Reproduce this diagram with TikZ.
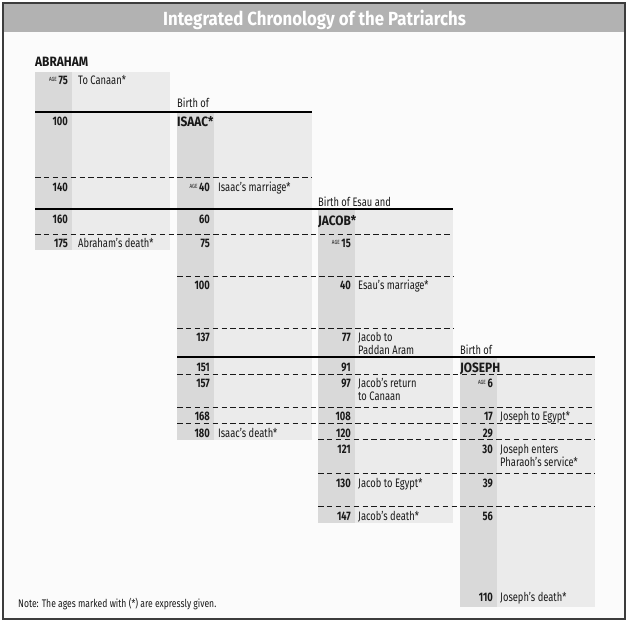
\documentclass[tikz,border=0pt]{standalone}
\usepackage{fontspec}
\setmainfont[FakeStretch=0.76]{Fira Sans}
\newfontfamily\titlefont[FakeStretch=0.885]{Fira Sans}
\newfontfamily\headfont[FakeStretch=0.88]{Fira Sans}
\newfontfamily\notefont[FakeStretch=0.78]{Fira Sans}
\definecolor{bandd}{gray}{0.85}
\definecolor{bandl}{gray}{0.92}
\definecolor{titlebg}{gray}{0.70}
\definecolor{panelbg}{gray}{0.985}
\definecolor{ink}{gray}{0.1}
\newcommand\agelbl{\raisebox{3pt}{\fontsize{6}{6}\selectfont\mdseries AGE}\hspace{1.6pt}}
\newcommand\twoline[2]{\begin{tabular}[t]{@{}l@{}}#1\\#2\end{tabular}}
\newcommand\colshade[3]{%
  \fill[bandl] (#1,#2) rectangle ({#1+135},#3);
  \fill[bandd] (#1,#2) rectangle ({#1+37},#3);}
\begin{document}
\begin{tikzpicture}[x=1pt,y=-1pt,
  num/.style={font=\bfseries\fontsize{12.3}{13}\selectfont, inner sep=0, anchor=base east, text=ink},
  evt/.style={font=\fontsize{12.3}{13}\selectfont, inner sep=0, anchor=base west, text=ink},
  head/.style={font=\headfont\bfseries\fontsize{13.5}{14}\selectfont, inner sep=0, anchor=base west, text=ink},
  solidrule/.style={line width=2pt, black},
  dashrule/.style={line width=1pt, ink, dash pattern=on 5.5pt off 3.4pt}]
\useasboundingbox (0,0) rectangle (630,624);
\fill[white] (0,0) rectangle (630,624);
\fill[panelbg] (3,3) rectangle (625,619);
\fill[titlebg] (3,3) rectangle (625,32);
\node[font=\titlefont\bfseries\fontsize{19}{21}\selectfont, text=white, inner sep=0, anchor=base] (title) at (314.5,25) {Integrated Chronology of the Patriarchs};

% column shading
\colshade{35}{72}{250}
\colshade{177}{112}{440}
\colshade{318}{209}{523}
\colshade{460}{357}{607}

% rules
\draw[solidrule] (35,112) -- (312,112);
\draw[solidrule] (35,209) -- (453,209);
\draw[solidrule] (177,357) -- (595,357);
\draw[dashrule] (35,177) -- (312,177);
\draw[dashrule] (35,234) -- (453,234);
\draw[dashrule] (177,276) -- (453,276);
\draw[dashrule] (177,328) -- (453,328);
\draw[dashrule] (177,374) -- (595,374);
\draw[dashrule] (177,407) -- (595,407);
\draw[dashrule] (177,423) -- (595,423);
\draw[dashrule] (318,439) -- (595,439);
\draw[dashrule] (318,473) -- (595,473);
\draw[dashrule] (318,506) -- (595,506);

% headings
\node[head] (abraham) at (35,66) {ABRAHAM};
\node[evt] (birthisaac) at (177,107) {Birth of};
\node[head] (isaac) at (177,126) {ISAAC*};
\node[evt] (birthjacob) at (318,206) {Birth of Esau and};
\node[head] (jacob) at (318,225) {JACOB*};
\node[evt] (birthjoseph) at (460,354) {Birth of};
\node[head] (joseph) at (460,372) {JOSEPH};

% Abraham
\node[num] (a75) at (68,84) {\agelbl 75};
\node[evt] (ea75) at (78,84) {To Canaan*};
\node[num] (a100) at (68,125) {100};
\node[num] (a140) at (68,191) {140};
\node[num] (a160) at (68,223) {160};
\node[num] (a175) at (68,247) {175};
\node[evt] (ea175) at (78,247) {Abraham’s death*};

% Isaac
\node[num] (i40) at (210,191) {\agelbl 40};
\node[evt] (ei40) at (218,191) {Isaac’s marriage*};
\node[num] (i60) at (210,223) {60};
\node[num] (i75) at (210,247) {75};
\node[num] (i100) at (210,289) {100};
\node[num] (i137) at (210,341) {137};
\node[num] (i151) at (210,371) {151};
\node[num] (i157) at (210,387) {157};
\node[num] (i168) at (210,420) {168};
\node[num] (i180) at (210,437) {180};
\node[evt] (ei180) at (218,437) {Isaac’s death*};

% Jacob
\node[num] (j15) at (351,247) {\agelbl 15};
\node[num] (j40) at (351,289) {40};
\node[evt] (ej40) at (358,289) {Esau’s marriage*};
\node[num] (j77) at (351,341) {77};
\node[evt] (ej77) at (358,341) {\twoline{Jacob to}{Paddan Aram}};
\node[num] (j91) at (351,371) {91};
\node[num] (j97) at (351,387) {97};
\node[evt] (ej97) at (358,387) {\twoline{Jacob’s return}{to Canaan}};
\node[num] (j108) at (351,420) {108};
\node[num] (j120) at (351,437) {120};
\node[num] (j121) at (351,453) {121};
\node[num] (j130) at (351,487) {130};
\node[evt] (ej130) at (358,487) {Jacob to Egypt*};
\node[num] (j147) at (351,520) {147};
\node[evt] (ej147) at (358,520) {Jacob’s death*};

% Joseph
\node[num] (s6) at (493,387) {\agelbl 6};
\node[num] (s17) at (493,420) {17};
\node[evt] (es17) at (500,420) {Joseph to Egypt*};
\node[num] (s29) at (493,437) {29};
\node[num] (s30) at (493,453) {30};
\node[evt] (es30) at (500,453) {\twoline{Joseph enters}{Pharaoh’s service*}};
\node[num] (s39) at (493,487) {39};
\node[num] (s56) at (493,520) {56};
\node[num] (s110) at (493,601) {110};
\node[evt] (es110) at (500,601) {Joseph’s death*};

\node[evt, font=\notefont\fontsize{11}{12}\selectfont] (note) at (18,607) {Note: The ages marked with (*) are expressly given.};

\draw[line width=1.5pt, ink!85] (3,3) rectangle (625,619);
\end{tikzpicture}
\end{document}
